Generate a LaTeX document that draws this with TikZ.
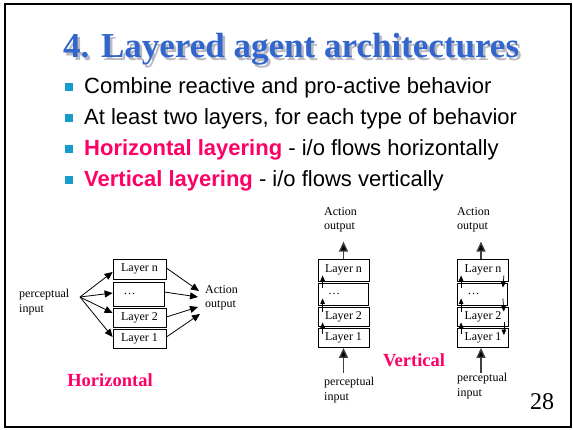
\documentclass[tikz,border=0pt]{standalone}
\usepackage{fontspec}
\setmainfont{Liberation Serif}
\setsansfont{Liberation Sans}
\usetikzlibrary{arrows.meta}

\definecolor{titleblue}{RGB}{51,102,204}
\definecolor{titleshade}{RGB}{185,185,195}
\definecolor{hot}{RGB}{255,0,102}
\definecolor{bulletblue}{RGB}{22,155,205}

% heading text drawn over its own soft drop shadow
\newcommand{\shadowedheading}[1]{%
  \rlap{\hspace*{2.5pt}\raisebox{-2.5pt}{\textcolor{titleshade}{#1}}}\textcolor{titleblue}{#1}}

\tikzset{
  lbl/.style={font=\fontsize{12}{14.5}\selectfont, inner sep=0pt, align=left},
  layerbox/.style={draw, line width=0.8pt, inner sep=0pt, font=\fontsize{12}{14}\selectfont},
  harrow/.style={line width=0.8pt, -{Triangle[length=8pt,width=7pt]}},
  bigarrow/.style={line width=1.3pt, draw=black!75, -{Triangle[length=10pt,width=9pt,fill=black]}},
  tinyarrow/.style={line width=0.7pt, -{Triangle[length=5.5pt,width=4.5pt]}},
  bullettext/.style={anchor=base west, inner sep=0pt, font=\sffamily\fontsize{22}{26}\selectfont},
  caption/.style={font=\bfseries\fontsize{18.5}{22}\selectfont, text=hot, inner sep=0pt}
}

\begin{document}
\begin{tikzpicture}[x=1pt,y=-1pt]
\useasboundingbox (0,0) rectangle (573,429);
\fill[white] (0,0) rectangle (573,429);
\draw[line width=2pt] (5,4) rectangle (571,427);

% heading
\node[anchor=base west, inner sep=0pt, font=\bfseries\fontsize{35}{40}\selectfont] (title) at (63,57.5) {\shadowedheading{4. Layered agent architectures}};

% bullet list
\foreach \yb in {93,124,155,186} {
  \fill[bulletblue] (65,\yb-10) rectangle (73,\yb-2);
}
\node[bullettext] (b1) at (84,93) {Combine reactive and pro-active behavior};
\node[bullettext] (b2) at (84,124) {At least two layers, for each type of behavior};
\node[bullettext] (b3) at (84,155) {\textcolor{hot}{\bfseries Horizontal layering} - i/o flows horizontally};
\node[bullettext] (b4) at (84,186) {\textcolor{hot}{\bfseries Vertical layering} - i/o flows vertically};

% ---- horizontal layering ----
\node[layerbox, minimum width=53pt, minimum height=20pt] (Hn) at (139.5,269) {Layer n};
\node[layerbox, minimum width=51pt, minimum height=24pt] (Hd) at (138.5,294) {\hspace*{-18pt}\dots};
\node[layerbox, minimum width=53pt, minimum height=19pt] (H2) at (139.5,317.5) {Layer 2};
\node[layerbox, minimum width=53pt, minimum height=19pt] (H1) at (139.5,338.5) {Layer 1};

\node[lbl, anchor=west] (Hin) at (19,302) {perceptual\\input};
\coordinate (hsrc) at (80,297);
\node[lbl, anchor=west] (Hout) at (205,298) {Action\\output};

\draw[harrow] (hsrc) -- ([yshift=-3pt]Hn.west);
\draw[harrow] (hsrc) -- ([yshift=1pt]Hd.west);
\draw[harrow] (hsrc) -- ([yshift=4.5pt]H2.west);
\draw[harrow] (hsrc) -- ([yshift=1.5pt]H1.west);

\draw[harrow] ([yshift=1pt]Hn.east) -- ([xshift=-6pt,yshift=7pt]Hout.west);
\draw[harrow] ([yshift=2pt]Hd.east) -- ([xshift=-7pt,yshift=1pt]Hout.west);
\draw[harrow] ([yshift=0.5pt]H2.east) -- ([xshift=-7pt,yshift=-9pt]Hout.west);
\draw[harrow] ([yshift=1.5pt]H1.east) -- ([xshift=-5pt,yshift=-16pt]Hout.west);

\node[caption] (Hcap) at (110,380) {Horizontal};

% ---- vertical layering, one pass ----
\node[layerbox, minimum width=51pt, minimum height=22pt] (Vn) at (343.5,270) {Layer n};
\node[layerbox, minimum width=50pt, minimum height=22pt] (Vd) at (343,294) {\hspace*{-18pt}\dots};
\node[layerbox, minimum width=51pt, minimum height=19pt] (V2) at (343.5,316.5) {Layer 2};
\node[layerbox, minimum width=51pt, minimum height=19pt] (V1) at (343.5,338) {Layer 1};

\node[lbl, anchor=north west] (VoutL) at (324,207) {Action\\output};
\node[lbl, anchor=north west] (VinL) at (324,377) {perceptual\\input};

\draw[bigarrow] (Vn.north) -- ([yshift=17pt]Vn.north);
\draw[bigarrow] ([yshift=-25pt]V1.south) -- (V1.south);

\draw[tinyarrow] ([xshift=5pt,yshift=-5pt]Vd.north west) -- ([xshift=5pt,yshift=6pt]Vn.south west);
\draw[tinyarrow] ([xshift=5pt,yshift=-5pt]V2.north west) -- ([xshift=5pt,yshift=7pt]Vd.south west);
\draw[tinyarrow] ([xshift=5pt,yshift=-6pt]V1.north west) -- ([xshift=5pt,yshift=4pt]V2.south west);

\node[caption] (Vcap) at (414,360) {Vertical};

% ---- vertical layering, two passes ----
\node[layerbox, minimum width=51pt, minimum height=22pt] (Wn) at (483,270) {Layer n};
\node[layerbox, minimum width=50pt, minimum height=22pt] (Wd) at (482.5,294) {\hspace*{-18pt}\dots};
\node[layerbox, minimum width=51pt, minimum height=19pt] (W2) at (483,316.5) {Layer 2};
\node[layerbox, minimum width=51pt, minimum height=19pt] (W1) at (483,338) {Layer 1};

\node[lbl, anchor=north west] (WoutL) at (457,207) {Action\\output};
\node[lbl, anchor=north west] (WinL) at (457,373) {perceptual\\input};

\draw[bigarrow] ([xshift=-2pt]Wn.north) -- ([xshift=-2pt,yshift=17pt]Wn.north);
\draw[bigarrow] ([xshift=-2pt,yshift=-25pt]W1.south) -- ([xshift=-2pt]W1.south);

\draw[tinyarrow] ([xshift=4pt,yshift=-5pt]Wd.north west) -- ([xshift=4pt,yshift=6pt]Wn.south west);
\draw[tinyarrow] ([xshift=4pt,yshift=-5pt]W2.north west) -- ([xshift=4pt,yshift=7pt]Wd.south west);
\draw[tinyarrow] ([xshift=4pt,yshift=-6pt]W1.north west) -- ([xshift=4pt,yshift=4pt]W2.south west);

\draw[tinyarrow] ([xshift=-5pt,yshift=6pt]Wn.south east) -- ([xshift=-5pt,yshift=-5pt]Wd.north east);
\draw[tinyarrow] ([xshift=-5pt,yshift=7pt]Wd.south east) -- ([xshift=-5pt,yshift=-5pt]W2.north east);
\draw[tinyarrow] ([xshift=-5pt,yshift=4pt]W2.south east) -- ([xshift=-5pt,yshift=-7pt]W1.north east);

% slide number
\node[inner sep=0pt, font=\fontsize{24}{28}\selectfont] (pnum) at (542,402) {28};
\end{tikzpicture}
\end{document}
